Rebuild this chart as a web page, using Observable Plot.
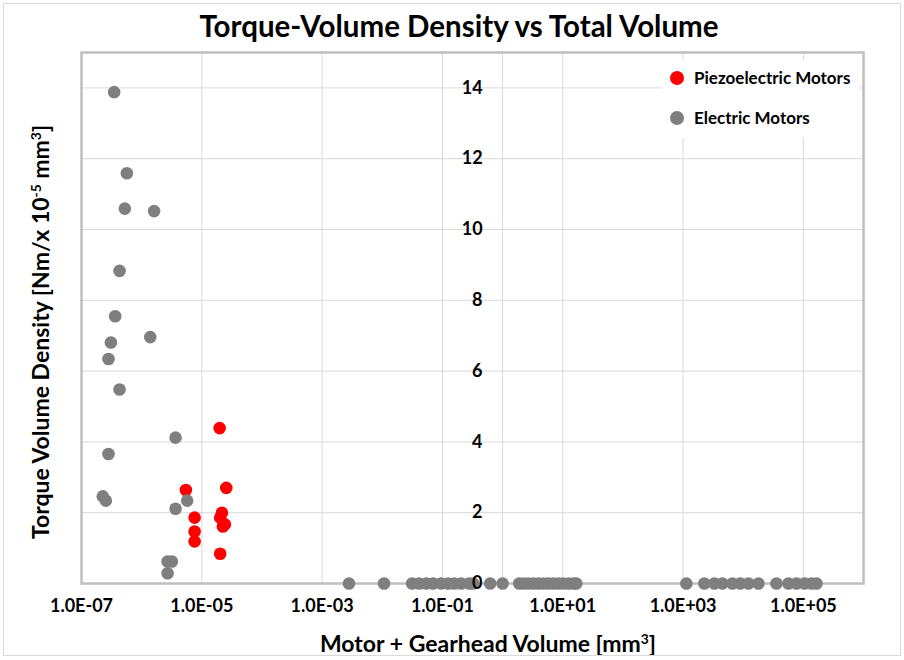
<!DOCTYPE html>
<html>
<head>
<meta charset="utf-8">
<script src="https://cdn.jsdelivr.net/npm/d3@7"></script>
<script src="https://cdn.jsdelivr.net/npm/@observablehq/plot@0.6"></script>
<style>
  html, body { margin: 0; padding: 0; background: #fff; }
  #wrap { position: relative; width: 904px; height: 660px; overflow: hidden; font-family: Lato, "Liberation Sans", sans-serif; color: #000; }
  #border { position: absolute; left: 3px; top: 3px; width: 896px; height: 651px; border: 1px solid #d9d9d9; pointer-events: none; }
  #chart { position: absolute; left: 0; top: 0; }
  .title { position: absolute; left: 459px; top: 25px; transform: translate(-50%, -50%); font-weight: bold; font-size: 29.5px; white-space: nowrap; }
  .xtitle { position: absolute; left: 488px; top: 643px; transform: translate(-50%, -50%); font-weight: bold; font-size: 23px; white-space: nowrap; }
  .ytitle { position: absolute; left: 40px; top: 332px; transform: translate(-50%, -50%) rotate(-90deg); font-weight: bold; font-size: 23px; white-space: nowrap; }
  sup { font-size: 0.6em; vertical-align: 0.55em; line-height: 0; }
  .legend { position: absolute; left: 662px; top: 60px; width: 198px; height: 78px; background: #fff; font-weight: bold; font-size: 17px; }
  .legend .item { position: absolute; left: 8px; display: flex; align-items: center; white-space: nowrap; }
  .legend .sw { width: 14px; height: 14px; border-radius: 50%; margin-right: 10px; display: inline-block; }
</style>
</head>
<body>
<div id="wrap">
  <div id="chart"></div>
  <div class="title">Torque-Volume Density vs Total Volume</div>
  <div class="xtitle">Motor + Gearhead Volume [mm<sup>3</sup>]</div>
  <div class="ytitle">Torque Volume Density [Nm/x 10<sup>-5</sup> mm<sup>3</sup>]</div>
  <div class="legend" id="legend"></div>
  <div id="border"></div>
</div>
<script>
// Series names and colours
const seriesNames = ["Piezoelectric Motors", "Electric Motors"];
const seriesColors = ["#ff0000", "#7f7f7f"];

// Piezoelectric motors: volume [mm^3] and torque-volume density
const piezoVolume = [1.98e-5, 5.43e-6, 2.55e-5, 7.59e-6, 2.16e-5, 2.02e-5, 2.42e-5, 2.24e-5, 7.59e-6, 7.59e-6, 2.02e-5];
const piezoDensity = [4.39, 2.64, 2.70, 1.86, 2.00, 1.86, 1.67, 1.61, 1.47, 1.19, 0.84];

// Electric motors
const electricVolume = [
  3.49e-7, 5.68e-7, 5.25e-7, 1.61e-6, 4.29e-7, 3.63e-7, 1.39e-6, 3.08e-7, 2.81e-7, 4.29e-7,
  3.66e-6, 2.81e-7, 2.26e-7, 2.54e-7, 5.71e-6, 3.66e-6, 2.70e-6, 3.18e-6, 2.70e-6,
  0.0028, 0.0107, 0.0313, 0.0409, 0.0536, 0.070, 0.095, 0.124, 0.157, 0.205, 0.279, 0.324, 0.622, 1.0,
  1.89, 2.21, 2.67, 3.24, 3.92, 4.74, 5.75, 6.97, 8.43, 10.2, 12.4, 15.0, 16.8,
  1135, 2259, 3319, 4508, 6607, 8974, 12220, 17910, 35730, 56490, 76910, 104500, 136800, 165600
];
const electricDensity = [
  13.88, 11.59, 10.59, 10.52, 8.83, 7.55, 6.96, 6.81, 6.34, 5.48,
  4.12, 3.66, 2.46, 2.34, 2.34, 2.11, 0.62, 0.62, 0.29,
  0, 0, 0, 0, 0, 0, 0, 0, 0, 0, 0, 0, 0, 0,
  0, 0, 0, 0, 0, 0, 0, 0, 0, 0, 0, 0, 0,
  0, 0, 0, 0, 0, 0, 0, 0, 0, 0, 0, 0, 0, 0
];

// Axis ticks
const xTicks = [1e-7, 1e-5, 1e-3, 1e-1, 1e1, 1e3, 1e5];
const xDomain = [1e-7, 1e6];
const yTicks = [0, 2, 4, 6, 8, 10, 12, 14];
const yDomain = [0, 15];
const yAxisCrossesAt = 1; // vertical axis crosses the log x axis at 1

const piezo = piezoVolume.map((v, i) => ({volume: v, density: piezoDensity[i]}));
const electric = electricVolume.map((v, i) => ({volume: v, density: electricDensity[i]}));

function fmtSci(v) {
  const e = Math.round(Math.log10(v));
  const m = v / Math.pow(10, e);
  const sign = e < 0 ? "-" : "+";
  return m.toFixed(1) + "E" + sign + String(Math.abs(e)).padStart(2, "0");
}

const chart = Plot.plot({
  width: 904,
  height: 660,
  marginLeft: 81,
  marginRight: 41,
  marginTop: 52,
  marginBottom: 77,
  style: {fontFamily: "Lato, 'Liberation Sans', sans-serif", fontWeight: "bold", fontSize: "18px", color: "#000", background: "transparent"},
  x: {type: "log", domain: xDomain, ticks: xTicks, tickFormat: fmtSci, tickSize: 0, tickPadding: 16, label: null},
  y: {domain: yDomain, axis: null},
  marks: [
    Plot.ruleX(xTicks.slice(1), {stroke: "#d9d9d9", strokeWidth: 1}),
    Plot.ruleY(yTicks.slice(1), {stroke: "#d9d9d9", strokeWidth: 1}),
    Plot.ruleX([yAxisCrossesAt], {stroke: "#d9d9d9", strokeWidth: 1}),
    Plot.frame({stroke: "#bfbfbf", strokeWidth: 2.5}),
    Plot.dot(piezo, {x: "volume", y: "density", r: 6.3, fill: seriesColors[0], stroke: "none"}),
    Plot.dot(electric, {x: "volume", y: "density", r: 6.3, fill: seriesColors[1], stroke: "none"}),
    Plot.text(yTicks, {x: () => yAxisCrossesAt, y: d => d, text: d => String(d), textAnchor: "end", dx: -20, fontSize: 18, fontWeight: "bold", fill: "#000"})
  ]
});
document.getElementById("chart").appendChild(chart);

// Legend
const legend = document.getElementById("legend");
const legendTops = [18, 58];
seriesNames.forEach((name, i) => {
  const item = document.createElement("div");
  item.className = "item";
  item.style.top = (legendTops[i] - 11) + "px";
  const sw = document.createElement("span");
  sw.className = "sw";
  sw.style.background = seriesColors[i];
  item.appendChild(sw);
  item.appendChild(document.createTextNode(name));
  legend.appendChild(item);
});
</script>
</body>
</html>
